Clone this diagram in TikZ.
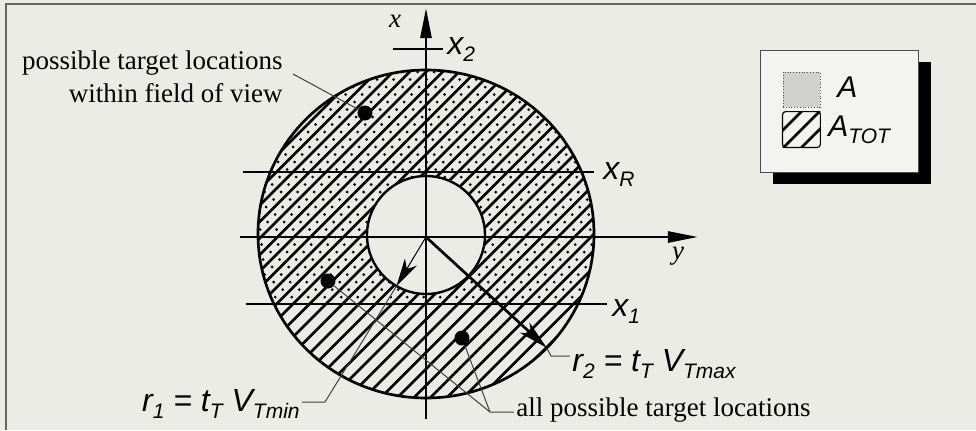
\documentclass[tikz,border=0pt]{standalone}
\usepackage{fontspec}
\setmainfont{Liberation Serif}
\setsansfont{Liberation Sans}
\usetikzlibrary{arrows.meta,shadows}

\definecolor{paper}{RGB}{236,236,231}
\definecolor{legendpaper}{RGB}{243,243,239}
\definecolor{swatchgray}{RGB}{208,208,204}

% lowered subscript in the sans labels
\newcommand{\lowix}[1]{\raisebox{-0.45ex}{\fontsize{10.5}{12}\selectfont #1}}
% the ring between the two circles
\newcommand{\ringpath}{(0,3) ellipse [x radius=168, y radius=164] (0,2) circle [radius=59]}

\begin{document}
\begin{tikzpicture}[x=0.5pt, y=0.5pt,
    heavy/.style={line width=1.35pt},
    hatchline/.style={line width=1.3pt},
    leader/.style={line width=0.5pt, draw=black!75},
    target/.style={circle, fill=black, inner sep=0pt, minimum size=7.5pt},
    sanslbl/.style={inner sep=1pt, font=\sffamily\itshape\fontsize{16}{19}\selectfont},
    leglbl/.style={inner sep=1pt, font=\sffamily\itshape\fontsize{15}{18}\selectfont},
    seriflbl/.style={inner sep=1pt, font=\fontsize{13.5}{16.5}\selectfont}]
    \useasboundingbox (-426,-193) rectangle (550,237);

    % paper and frame
    \fill[paper] (-426,-193) rectangle (550,237);
    \draw[line width=0.7pt, black!60] (-420,-193) -- (-420,233) -- (550,233);

    % dots in the ring above x_1
    \begin{scope}[even odd rule]
        \clip (-200,-67) rectangle (200,200);
        \clip \ringpath;
        \foreach \k in {-22,...,21}
            \foreach \j in {-9,...,24}
                \fill (\k*16.5+8.25+\j*7.5, \j*7.5) circle [radius=1.5];
    \end{scope}

    % hatching of the whole ring
    \begin{scope}[even odd rule]
        \clip \ringpath;
        \foreach \k in {-22,...,22}
            \draw[hatchline] (\k*16.5-180,-180) -- (\k*16.5+180,180);
    \end{scope}
    \draw[heavy] (0,3) ellipse [x radius=168, y radius=164];
    \draw[line width=1.2pt] (0,2) circle [radius=59];

    % x_R, x_1 and x_2
    \draw[heavy] (-183,65) -- (168,65);
    \node[sanslbl, anchor=base west] (xR) at (175,58) {x\lowix{R}};
    \draw[heavy] (-180,-67) -- (181,-67);
    \node[sanslbl, anchor=base west] (xone) at (184,-79) {x\lowix{1}};
    \draw[heavy] (-33,188) -- (17,188);
    \node[sanslbl, anchor=base west] (xtwo) at (19,183) {x\lowix{2}};

    % axes
    \draw[heavy, -{Triangle[length=15pt, width=5.5pt]}] (-186,0) -- (272,0);
    \draw[heavy, -{Triangle[length=15pt, width=5.5pt]}] (0,-182) -- (0,229);
    \node[seriflbl] (xaxis) at (-31,216) {\textit{x}};
    \node[seriflbl] (yaxis) at (252,-19) {\textit{y}};

    % radii
    \coordinate (o) at (0,0);
    \coordinate (r1tip) at ([shift={(0,2)}]240:59);
    \coordinate (r2tip) at ([shift={(0,3)}]-44:168 and 164);
    \draw[line width=0.5pt, -{Stealth[length=14pt, width=7pt, inset=4pt]}] (o) -- (r1tip);
    \draw[heavy, -{Stealth[length=15pt, width=7pt, inset=4.5pt]}] (o) -- (r2tip);

    \node[sanslbl, anchor=base east] (rone) at (-124,-174) {r\lowix{1} = t\lowix{T} V\lowix{Tmin}};
    \node[sanslbl, anchor=base west] (rtwo) at (144,-134) {r\lowix{2} = t\lowix{T} V\lowix{Tmax}};
    \coordinate (r1knee) at (-101,-165);
    \draw[leader] (r1tip) -- (r1knee) -- (r1knee -| rone.east);
    \coordinate (r2knee) at (125,-119);
    \draw[leader] (r2tip) -- (r2knee) -- (r2knee -| rtwo.west);

    % target locations
    \node[target] (dotfov) at (-61,124) {};
    \node[target] (dotlow) at (-98,-44) {};
    \node[target] (dotin) at (36,-101) {};

    \node[seriflbl, align=right, anchor=east] (fov) at (-141,160) {possible target locations\\within field of view};
    \coordinate (fovend) at (-133,163);
    \draw[leader] (fovend) -- (dotfov);

    \node[seriflbl, anchor=base west] (allloc) at (88,-179) {all possible target locations};
    \coordinate (allknee) at (64,-175);
    \draw[leader] (dotlow) -- (allknee) -- (allknee -| allloc.west);
    \draw[leader] (dotin) -- (allknee);

    % legend
    \node[draw=black!70, line width=0.5pt, fill=legendpaper, minimum width=79pt, minimum height=61pt,
          drop shadow={shadow xshift=6pt, shadow yshift=-6pt, fill=black, opacity=1}] (legend) at (414,126) {};
    \node[draw=black!70, densely dotted, fill=swatchgray, minimum width=18.5pt, minimum height=17.5pt, inner sep=0pt] (swA) at (375.5,147.5) {};
    \node[minimum width=18.5pt, minimum height=17.5pt, inner sep=0pt] (swTot) at (375.5,107.5) {};
    \begin{scope}
        \clip (swTot.south west) rectangle (swTot.north east);
        \foreach \c in {-18,0,18}
            \draw[hatchline] (375.5+\c-20,87.5) -- (375.5+\c+20,127.5);
    \end{scope}
    \draw[line width=0.6pt, rounded corners=1.5pt] (swTot.south west) rectangle (swTot.north east);
    \node[leglbl, anchor=base west] (legA) at (409,140) {A};
    \node[leglbl, anchor=base west] (legTot) at (400,101) {A\lowix{TOT}};
\end{tikzpicture}
\end{document}
